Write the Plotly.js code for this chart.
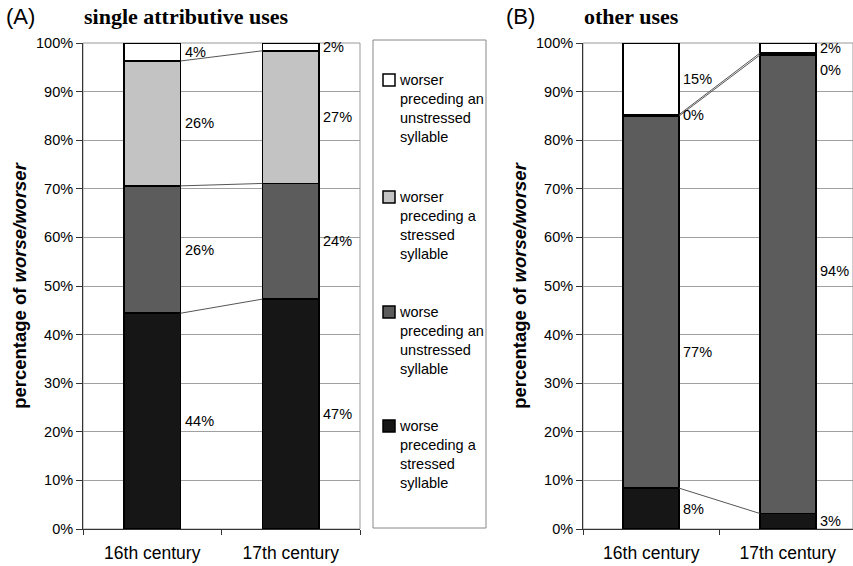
<!DOCTYPE html>
<html>
<head>
<meta charset="utf-8">
<script src="https://cdn.plot.ly/plotly-3.0.1.min.js"></script>
<style>html,body{margin:0;padding:0;background:#fff;}#chart{width:853px;height:566px;}</style>
</head>
<body>
<div id="chart"></div>
<script>
// ---- data ----
const categories = ['16th century', '17th century'];
const seriesNames = [
  'worse<br>preceding a<br>stressed<br>syllable',
  'worse<br>preceding an<br>unstressed<br>syllable',
  'worser<br>preceding a<br>stressed<br>syllable',
  'worser<br>preceding an<br>unstressed<br>syllable'
];
// Panel A: single attributive uses (percent), per series: [16th, 17th]
const singleWorseStressed    = [44.4, 47.3];
const singleWorseUnstressed  = [26.2, 23.8];
const singleWorserStressed   = [25.7, 27.3];
const singleWorserUnstressed = [3.7, 1.6];
// Panel B: other uses (percent)
const otherWorseStressed    = [8.4, 3.2];
const otherWorseUnstressed  = [76.6, 94.3];
const otherWorserStressed   = [0.3, 0.4];
const otherWorserUnstressed = [14.7, 2.1];
const yTickValues = [0, 10, 20, 30, 40, 50, 60, 70, 80, 90, 100];
const yTickLabels = ['0%', '10%', '20%', '30%', '40%', '50%', '60%', '70%', '80%', '90%', '100%'];

// ---- styling ----
const W = 853, H = 566;
const px = x => x / W;
const py = y => 1 - y / H;
const FONT = 'Liberation Sans, Arial, sans-serif';
const colors = ['#161616', '#5c5c5c', '#c3c3c3', '#ffffff'];
const BW = 0.41;

const panels = [
  {xa: 'x', ya: 'y', series: [singleWorseStressed, singleWorseUnstressed, singleWorserStressed, singleWorserUnstressed]},
  {xa: 'x2', ya: 'y2', series: [otherWorseStressed, otherWorseUnstressed, otherWorserStressed, otherWorserUnstressed]}
];
// manual label nudges (px) where the original labels were moved to avoid overlap
const labelShift = {'1-1-0': -50, '1-1-1': 13, '1-2-1': -16};

const traces = [];
const annotations = [];
panels.forEach((p, pi) => {
  const cum = [[], []];
  p.series.forEach((vals, si) => {
    traces.push({
      type: 'bar', x: [0, 1], y: vals, xaxis: p.xa, yaxis: p.ya, width: BW,
      name: seriesNames[si].replace(/<br>/g, ' '), showlegend: false,
      marker: {color: colors[si], line: {color: '#000', width: 1.6}},
      hoverinfo: 'skip'
    });
    vals.forEach((v, ci) => {
      const base = si === 0 ? 0 : cum[ci][si - 1];
      cum[ci].push(base + v);
      annotations.push({
        xref: p.xa, yref: p.ya, x: ci + BW / 2, y: base + v / 2,
        text: Math.round(v) + '%', showarrow: false, xanchor: 'left', yanchor: 'middle',
        xshift: 2, yshift: labelShift[pi + '-' + si + '-' + ci] || 0,
        font: {family: FONT, size: 14.5, color: '#000'}
      });
    });
  });
  // connector lines between cumulative boundaries
  for (let k = 0; k < 3; k++) {
    traces.push({
      type: 'scatter', mode: 'lines', xaxis: p.xa, yaxis: p.ya,
      x: [BW / 2, 1 - BW / 2], y: [cum[0][k], cum[1][k]],
      line: {color: '#555', width: 1}, showlegend: false, hoverinfo: 'skip'
    });
  }
});

// panel titles
annotations.push(
  {xref: 'paper', yref: 'paper', x: px(4), y: py(17), xanchor: 'left', yanchor: 'middle', showarrow: false,
   text: '(A)', font: {family: FONT, size: 22, color: '#000'}},
  {xref: 'paper', yref: 'paper', x: px(82), y: py(17), xanchor: 'left', yanchor: 'middle', showarrow: false,
   text: '<b>single attributive uses</b>', font: {family: 'Liberation Serif, Times New Roman, serif', size: 22, color: '#000'}},
  {xref: 'paper', yref: 'paper', x: px(504), y: py(17), xanchor: 'left', yanchor: 'middle', showarrow: false,
   text: '(B)', font: {family: FONT, size: 22, color: '#000'}},
  {xref: 'paper', yref: 'paper', x: px(582), y: py(17), xanchor: 'left', yanchor: 'middle', showarrow: false,
   text: '<b>other uses</b>', font: {family: 'Liberation Serif, Times New Roman, serif', size: 22, color: '#000'}}
);

// manual legend (top to bottom: reverse of stacking order)
const shapes = [];
const legendY = [80, 197, 312, 426];
shapes.push({type: 'rect', xref: 'paper', yref: 'paper', x0: px(373), x1: px(486), y0: py(40), y1: py(528),
  line: {color: '#888', width: 1}, fillcolor: 'rgba(0,0,0,0)'});
[3, 2, 1, 0].forEach((si, k) => {
  const yc = legendY[k];
  shapes.push({type: 'rect', xref: 'paper', yref: 'paper', x0: px(383), x1: px(395), y0: py(yc - 6), y1: py(yc + 6),
    fillcolor: colors[si], line: {color: '#000', width: 1.5}});
  annotations.push({xref: 'paper', yref: 'paper', x: px(397), y: py(yc - 10), xanchor: 'left', yanchor: 'top',
    align: 'left', showarrow: false, text: seriesNames[si], font: {family: FONT, size: 14.5, color: '#000'}});
});

// plot-area borders (top/right)
[['x', 'y'], ['x2', 'y2']].forEach(([xa, ya]) => {
  shapes.push({type: 'rect', xref: xa + ' domain', yref: ya + ' domain', x0: 0, x1: 1, y0: 0, y1: 1,
    line: {color: '#999', width: 1}, layer: 'below'});
});

const yCommon = {
  range: [0, 100], tickmode: 'array', tickvals: yTickValues, ticktext: yTickLabels,
  showgrid: true, gridcolor: '#a0a0a0', gridwidth: 1,
  zeroline: false, showline: true, linecolor: '#333', linewidth: 1, ticks: 'outside', ticklen: 6, tickcolor: '#333',
  tickfont: {family: FONT, size: 14.5, color: '#000'}, fixedrange: true,
  title: {text: '<b>percentage of <i>worse/worser</i></b>', font: {family: FONT, size: 18.5, color: '#000'}, standoff: 4},
  domain: [py(529), py(43)]
};
const xCommon = {
  tickvals: [0, 1], ticktext: categories, showgrid: false, zeroline: false, showline: true, linecolor: '#333',
  ticks: '', tickfont: {family: FONT, size: 17.5, color: '#000'}, ticklabelstandoff: 8, fixedrange: true,
  minor: {tickvals: [-0.5, 0.5, 1.5], ticks: 'outside', ticklen: 5, tickcolor: '#333', showgrid: false}
};

const layout = {
  width: W, height: H, margin: {l: 0, r: 0, t: 0, b: 0}, paper_bgcolor: '#fff', plot_bgcolor: '#fff',
  barmode: 'stack', showlegend: false,
  xaxis: Object.assign({}, xCommon, {domain: [px(83), px(360)], range: [-0.5, 1.5], anchor: 'y'}),
  xaxis2: Object.assign({}, xCommon, {domain: [px(583), 1], range: [-0.5, 1.478], anchor: 'y2'}),
  yaxis: Object.assign({}, yCommon, {anchor: 'x'}),
  yaxis2: Object.assign({}, yCommon, {anchor: 'x2'}),
  annotations: annotations, shapes: shapes
};

Plotly.newPlot('chart', traces, layout, {displayModeBar: false, staticPlot: true});
</script>
</body>
</html>
